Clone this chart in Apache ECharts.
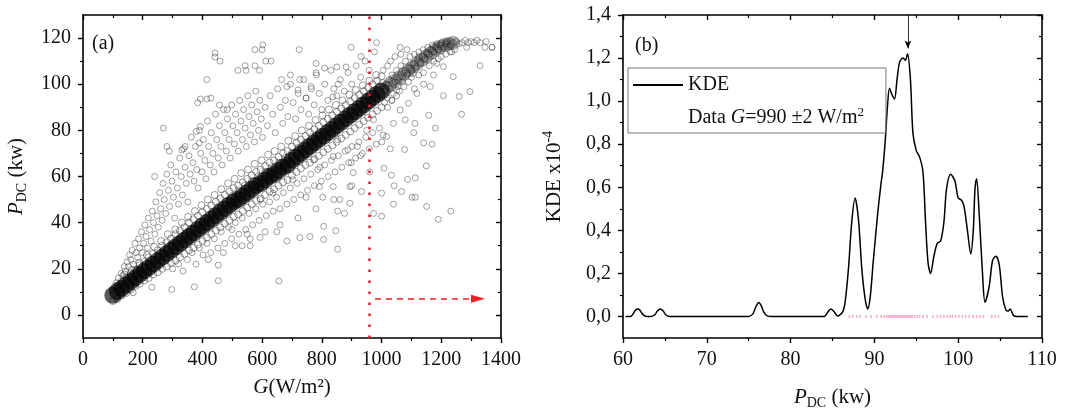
<!DOCTYPE html>
<html>
<head>
<meta charset="utf-8">
<script src="https://cdn.jsdelivr.net/npm/echarts@6.0.0/dist/echarts.min.js"></script>
<style>
html, body { margin: 0; padding: 0; background: #fff; }
#chart { width: 1078px; height: 417px; }
</style>
</head>
<body>
<div id="chart"></div>
<script>
// ---- panel (a): P_DC against irradiance G ----
const bandG = [ 100, 115, 130, 145, 160, 175, 190, 205, 220, 235, 250, 265, 280, 295, 310, 325, 340, 355, 370, 385, 400, 415, 430, 445, 460, 475, 490, 505, 520, 535, 550, 565, 580, 595, 610, 625, 640, 655, 670, 685, 700, 715, 730, 745, 760, 775, 790, 805, 820, 835, 850, 865, 880, 895, 910, 925, 940, 955, 970, 985, 1000 ];
// dense core of the cloud
const bandMid = [ 8.5, 10, 11.5, 13, 14.5, 16, 17.5, 19, 20.5, 22, 23.5, 25, 26.5, 28, 29.5, 31, 32.5, 34, 35.5, 37, 38.5, 40, 41.5, 43, 44.5, 46, 47.5, 49, 50, 51.5, 53, 54.5, 56, 57, 58.5, 60, 61, 62.5, 64, 65, 67, 68.5, 70, 71.5, 73, 74.5, 76, 77.5, 79, 80.5, 82, 83.5, 85, 86.5, 88, 89.5, 91, 92.5, 94, 95.5, 97 ];
// lower / upper edge of the dark band
const bandLo = [ 6, 7, 8.5, 9.5, 11, 12.5, 13.5, 15, 16, 17.5, 18.5, 20, 21, 22.5, 23.5, 25, 26.5, 28, 29, 30.5, 32, 33.5, 35, 36.5, 38, 39.5, 41, 42.5, 43.5, 45, 46.5, 48, 49.5, 50.5, 52, 53.5, 54.5, 56, 57.5, 58.5, 60.5, 62, 63.5, 65, 66, 67.5, 69, 70.5, 72, 73.5, 75, 76.5, 78, 79.5, 81, 82.5, 84, 85.5, 87, 88.5, 90 ];
const bandHi = [ 11, 12.5, 14.5, 16, 18, 19.5, 21.5, 23, 25, 26.5, 28, 30, 31.5, 33, 35, 36.5, 38, 40, 41.5, 43, 44.5, 46, 47.5, 49, 50.5, 52, 53.5, 55, 56, 57.5, 59, 60.5, 62, 63, 64.5, 66, 67, 68.5, 70, 71, 73, 74.5, 76, 77.5, 79, 80.5, 82, 83.5, 85, 86.5, 88, 89.5, 91, 92.5, 94, 95.5, 97, 98.5, 100, 101.5, 103.5 ];

// band continues, lighter, towards saturation
const tailG = [ 1015, 1030, 1045, 1060, 1075, 1090, 1105, 1120, 1135, 1150, 1165, 1180, 1195, 1210, 1225, 1240 ];
const tailMid = [ 98.5, 100, 101.5, 103, 104.5, 106, 107.5, 109, 110.5, 112, 113.5, 115, 116, 117, 117.5, 118 ];

const tailPoints = [ [ 1005, 106 ], [ 1010, 97 ], [ 1010, 92 ], [ 1015, 100 ], [ 1020, 94 ], [ 1020, 108 ], [ 1020, 90 ], [ 1025, 102 ], [ 1030, 98 ], [ 1030, 110 ], [ 1035, 104 ], [ 1035, 93 ], [ 1040, 96 ], [ 1045, 101 ], [ 1045, 112 ], [ 1050, 106 ], [ 1050, 95 ], [ 1055, 99 ], [ 1060, 103 ], [ 1060, 97 ], [ 1065, 108 ], [ 1065, 113 ], [ 1070, 101 ], [ 1075, 105 ], [ 1075, 99 ], [ 1080, 110 ], [ 1085, 104 ], [ 1085, 115 ], [ 1090, 107 ], [ 1090, 101 ], [ 1095, 112 ], [ 1100, 106 ], [ 1100, 103 ], [ 1105, 109 ], [ 1110, 113 ], [ 1110, 98 ], [ 1115, 107 ], [ 1120, 111 ], [ 1125, 114 ], [ 1125, 104 ], [ 1130, 109 ], [ 1135, 112 ], [ 1140, 115 ], [ 1140, 105 ], [ 1145, 111 ], [ 1150, 114 ], [ 1155, 116 ], [ 1160, 113 ], [ 1160, 108 ], [ 1165, 115 ], [ 1170, 117 ], [ 1175, 114 ], [ 1175, 110 ], [ 1180, 116 ], [ 1185, 117.5 ], [ 1190, 115 ], [ 1190, 111 ], [ 1195, 117 ], [ 1200, 118 ], [ 1200, 112 ], [ 1210, 116 ], [ 1215, 117.5 ], [ 1215, 113 ], [ 1220, 118.5 ], [ 1230, 117 ], [ 1230, 114 ], [ 1240, 118 ], [ 1245, 115 ], [ 1250, 118.5 ], [ 1260, 117.5 ], [ 1270, 118 ], [ 1280, 119 ], [ 1290, 118 ], [ 1300, 118.5 ], [ 1310, 118 ], [ 1320, 119 ], [ 1330, 118 ], [ 1350, 118.5 ], [ 1370, 116 ] ];

const nearBand = [ [ 108, 12.5 ], [ 126, 11 ], [ 139, 17.5 ], [ 151, 14 ], [ 163, 19.5 ], [ 171, 15.5 ], [ 188, 22.5 ], [ 197, 18 ], [ 214, 26 ], [ 226, 21 ], [ 239, 29.5 ], [ 247, 24 ], [ 262, 32 ], [ 271, 26.5 ], [ 284, 35 ], [ 296, 30 ], [ 309, 37 ], [ 318, 32.5 ], [ 331, 40 ], [ 344, 35 ], [ 352, 42.5 ], [ 366, 37 ], [ 375, 45 ], [ 388, 40 ], [ 397, 47.5 ], [ 409, 42 ], [ 418, 50 ], [ 432, 44 ], [ 441, 52 ], [ 455, 47 ], [ 463, 54.5 ], [ 477, 49 ], [ 486, 57 ], [ 499, 51.5 ], [ 508, 59 ], [ 521, 54 ], [ 530, 61.5 ], [ 543, 56 ], [ 553, 63 ], [ 566, 58 ], [ 575, 65.5 ], [ 587, 60 ], [ 598, 67 ], [ 611, 62 ], [ 620, 69.5 ], [ 633, 64 ], [ 642, 71 ], [ 656, 66 ], [ 664, 73 ], [ 677, 68 ], [ 688, 75.5 ], [ 699, 70 ], [ 711, 77.5 ], [ 722, 72.5 ], [ 733, 80 ], [ 744, 74.5 ], [ 757, 82 ], [ 767, 77 ], [ 779, 84.5 ], [ 790, 79 ], [ 802, 86.5 ], [ 813, 81 ], [ 824, 89 ], [ 835, 83.5 ], [ 847, 91 ], [ 858, 85.5 ], [ 869, 93 ], [ 880, 88 ], [ 892, 95.5 ], [ 903, 90 ], [ 914, 97.5 ], [ 925, 92.5 ], [ 937, 99.5 ], [ 948, 94.5 ], [ 959, 101.5 ], [ 970, 97 ], [ 982, 104 ], [ 993, 99 ], [ 1003, 100.5 ] ];

const upperCloud = [ [ 112, 14 ], [ 118, 16 ], [ 122, 13.5 ], [ 128, 18 ], [ 133, 17 ], [ 138, 21 ], [ 142, 19 ], [ 148, 23 ], [ 152, 21 ], [ 156, 26 ], [ 160, 24 ], [ 165, 28 ], [ 170, 22 ], [ 174, 31 ], [ 178, 27 ], [ 183, 25 ], [ 186, 33 ], [ 190, 29 ], [ 196, 36 ], [ 199, 27 ], [ 203, 31 ], [ 207, 39 ], [ 211, 34 ], [ 216, 29 ], [ 219, 42 ], [ 223, 37 ], [ 228, 32 ], [ 232, 45 ], [ 236, 40 ], [ 241, 35 ], [ 244, 49 ], [ 248, 43 ], [ 252, 38 ], [ 257, 53 ], [ 260, 46 ], [ 265, 41 ], [ 268, 57 ], [ 272, 50 ], [ 277, 44 ], [ 281, 61 ], [ 286, 54 ], [ 290, 47 ], [ 294, 65 ], [ 298, 58 ], [ 303, 51 ], [ 307, 42 ], [ 311, 62 ], [ 316, 55 ], [ 320, 48 ], [ 324, 68 ], [ 329, 60 ], [ 333, 52 ], [ 337, 72 ], [ 342, 64 ], [ 346, 57 ], [ 351, 49 ], [ 355, 69 ], [ 359, 61 ], [ 363, 77 ], [ 368, 66 ], [ 372, 58 ], [ 377, 73 ], [ 381, 63 ], [ 386, 55 ], [ 390, 80 ], [ 394, 70 ], [ 399, 62 ], [ 403, 76 ], [ 408, 67 ], [ 412, 59 ], [ 417, 84 ], [ 421, 73 ], [ 426, 65 ], [ 430, 79 ], [ 435, 70 ], [ 439, 62 ], [ 444, 87 ], [ 448, 76 ], [ 453, 68 ], [ 457, 82 ], [ 462, 73 ], [ 466, 65 ], [ 471, 89 ], [ 475, 79 ], [ 480, 71 ], [ 484, 85 ], [ 489, 76 ], [ 493, 68 ], [ 498, 91 ], [ 502, 82 ], [ 507, 74 ], [ 511, 87 ], [ 516, 79 ], [ 520, 71 ], [ 525, 93 ], [ 529, 84 ], [ 534, 76 ], [ 538, 89 ], [ 543, 81 ], [ 547, 73 ], [ 552, 95 ], [ 556, 86 ], [ 561, 78 ], [ 565, 91 ], [ 570, 83 ], [ 574, 75 ], [ 579, 97 ], [ 583, 88 ], [ 588, 80 ], [ 592, 93 ], [ 597, 85 ], [ 601, 77 ], [ 610, 90 ], [ 618, 82 ], [ 627, 95 ], [ 635, 87 ], [ 644, 79 ], [ 652, 98 ], [ 661, 90 ], [ 669, 83 ], [ 678, 93 ], [ 686, 86 ], [ 695, 100 ], [ 704, 92 ], [ 712, 85 ], [ 721, 96 ], [ 730, 89 ], [ 739, 102 ], [ 747, 94 ], [ 756, 87 ], [ 765, 98 ], [ 774, 91 ], [ 782, 104 ], [ 791, 96 ], [ 800, 89 ], [ 810, 100 ], [ 820, 93 ], [ 830, 106 ], [ 840, 98 ], [ 850, 95 ], [ 862, 102 ], [ 875, 97 ], [ 888, 105 ], [ 900, 100 ], [ 915, 108 ], [ 930, 103 ], [ 945, 110 ], [ 958, 106 ] ];

const lowerCloud = [ [ 300, 20 ], [ 320, 22 ], [ 335, 19 ], [ 350, 24 ], [ 365, 27 ], [ 378, 22 ], [ 390, 29 ], [ 402, 26 ], [ 415, 31 ], [ 420, 24 ], [ 428, 27 ], [ 440, 33 ], [ 452, 29 ], [ 463, 36 ], [ 470, 27 ], [ 475, 31 ], [ 487, 38 ], [ 498, 33 ], [ 510, 40 ], [ 510, 30 ], [ 522, 35 ], [ 533, 42 ], [ 545, 37 ], [ 556, 44 ], [ 560, 33 ], [ 568, 39 ], [ 579, 46 ], [ 590, 41 ], [ 602, 48 ], [ 610, 36 ], [ 614, 43 ], [ 625, 49 ], [ 637, 45 ], [ 648, 51 ], [ 660, 46 ], [ 660, 39 ], [ 671, 53 ], [ 683, 48 ], [ 694, 55 ], [ 706, 50 ], [ 717, 57 ], [ 720, 42 ], [ 729, 52 ], [ 740, 59 ], [ 752, 54 ], [ 763, 61 ], [ 775, 56 ], [ 780, 46 ], [ 786, 63 ], [ 798, 58 ], [ 809, 65 ], [ 821, 60 ], [ 832, 67 ], [ 840, 50 ], [ 844, 62 ], [ 855, 69 ], [ 867, 64 ], [ 878, 71 ], [ 890, 66 ], [ 900, 56 ], [ 901, 73 ], [ 913, 68 ], [ 924, 75 ], [ 936, 70 ], [ 947, 77 ], [ 959, 72 ], [ 960, 62 ], [ 970, 79 ], [ 982, 74 ], [ 993, 81 ], [ 1005, 78 ] ];

const outliers = [ [ 442, 113.5 ], [ 442, 111.8 ], [ 459, 110 ], [ 576, 115 ], [ 602, 117 ], [ 600, 115 ], [ 724, 115 ], [ 612, 110 ], [ 630, 110 ], [ 543, 108 ], [ 546, 106 ], [ 576, 108 ], [ 591, 106 ], [ 519, 106 ], [ 415, 102 ], [ 415, 93.6 ], [ 428, 94 ], [ 457, 91 ], [ 483, 89 ], [ 384, 92 ], [ 393, 93.6 ], [ 379, 79.5 ], [ 393, 81.7 ], [ 269, 81 ], [ 281, 73 ], [ 289, 71 ], [ 331, 71.5 ], [ 342, 73 ], [ 389, 74.5 ], [ 240, 60 ], [ 983, 118 ], [ 976, 114 ], [ 931, 112 ], [ 898, 116 ], [ 881, 107.5 ], [ 850, 107.5 ], [ 809, 107 ], [ 781, 105 ], [ 781, 109 ], [ 855, 100 ], [ 837, 94.5 ], [ 747, 94 ], [ 764, 99 ], [ 720, 97.5 ], [ 726, 102 ], [ 665, 102 ], [ 695, 104 ], [ 683, 99 ], [ 1062, 116 ], [ 1346, 116 ], [ 1370, 116 ], [ 1296, 96.8 ], [ 1330, 108 ], [ 1260, 94.7 ], [ 1268, 87 ], [ 1207, 95 ], [ 1180, 81 ], [ 1158, 86.5 ], [ 1108, 79 ], [ 1141, 74.6 ], [ 1077, 71.7 ], [ 1087, 58.7 ], [ 1113, 59.4 ], [ 1169, 74 ], [ 1150, 64.6 ], [ 1113, 51 ], [ 1151, 47 ], [ 1190, 41.4 ], [ 1232, 45 ], [ 1040, 48 ], [ 1000, 42.8 ], [ 973, 44 ], [ 876, 44 ], [ 853, 45 ], [ 847, 36.5 ], [ 853, 28.5 ], [ 806, 32.7 ], [ 760, 34 ], [ 806, 38.4 ], [ 726, 33.5 ], [ 683, 32 ], [ 656, 14.7 ], [ 649, 36 ], [ 593, 33.6 ], [ 560, 30 ], [ 533, 30 ], [ 550, 35 ], [ 499, 37 ], [ 453, 21.6 ], [ 453, 14.8 ], [ 297, 11 ], [ 373, 12.2 ], [ 231, 12 ], [ 168, 9.6 ], [ 179, 19.5 ], [ 794, 64 ], [ 898, 66 ], [ 930, 69 ], [ 919, 73 ], [ 1001, 75 ], [ 1029, 72 ], [ 1008, 63.6 ], [ 1033, 60.6 ], [ 1042, 56 ], [ 1067, 53.5 ], [ 1102, 51 ], [ 933, 53.5 ], [ 894, 55.6 ], [ 838, 55.6 ], [ 792, 55.6 ], [ 747, 51 ], [ 702, 58.6 ], [ 675, 64.4 ], [ 636, 52.8 ], [ 593, 50 ], [ 803, 51 ], [ 860, 50 ], [ 894, 48.4 ], [ 1000, 52.8 ], [ 905, 61.7 ], [ 838, 68.7 ], [ 772, 67.3 ], [ 887, 71.6 ], [ 853, 76 ], [ 950, 80 ], [ 973, 84.6 ], [ 1017, 77.3 ], [ 1040, 83 ], [ 1062, 88.8 ], [ 1090, 91.7 ], [ 1118, 96 ], [ 1141, 100 ], [ 1079, 84.6 ], [ 1112, 83 ], [ 1034, 93 ], [ 1106, 104.6 ], [ 1174, 104 ], [ 1207, 107.6 ], [ 1240, 103.3 ], [ 1163, 99 ], [ 1051, 97.5 ], [ 1124, 111.9 ], [ 1152, 113.3 ], [ 1185, 109 ], [ 1235, 114 ], [ 1285, 116 ] ];

const gCut = 960;            // dotted red marker
const arrowFrom = [ 978, 7 ];
const arrowTo = [ 1323, 7 ];

// ---- panel (b): KDE of P_DC for G = 990 +-2 W/m2 ----
const kdeP = [ 60.3, 60.9, 61.2, 61.5, 61.75, 62.0, 62.3, 62.7, 63.3, 63.8, 64.1, 64.45, 64.8, 65.1, 65.6, 75.0, 75.5, 75.8, 76.2, 76.5, 76.8, 77.2, 77.8, 84.0, 84.4, 84.8, 85.2, 85.6, 86.2, 86.5, 86.9, 87.3, 87.7, 88.1, 88.5, 88.9, 89.2, 89.5, 89.85, 90.4, 90.8, 91.0, 91.3, 91.55, 91.8, 92.1, 92.4, 92.7, 93.0, 93.4, 93.7, 93.95, 94.3, 94.6, 95.0, 95.4, 95.8, 96.1, 96.4, 96.7, 97.1, 97.5, 97.9, 98.3, 98.6, 99.1, 99.6, 100.0, 100.4, 100.7, 101.1, 101.5, 101.8, 102.0, 102.2, 102.5, 102.9, 103.2, 103.7, 104.1, 104.5, 104.9, 105.3, 105.7, 105.97, 106.2, 106.6, 107.0, 108.3 ];
const kdeY = [ 0, 0, 0.012, 0.03, 0.035, 0.03, 0.012, 0.001, 0, 0.008, 0.025, 0.035, 0.025, 0.008, 0, 0, 0.012, 0.04, 0.065, 0.05, 0.02, 0.003, 0, 0, 0.018, 0.035, 0.022, 0.002, 0.02, 0.065, 0.22, 0.44, 0.55, 0.45, 0.22, 0.08, 0.035, 0.09, 0.25, 0.48, 0.62, 0.68, 0.82, 0.97, 1.06, 1.03, 1.01, 1.1, 1.18, 1.2, 1.19, 1.22, 1.1, 0.85, 0.77, 0.74, 0.67, 0.44, 0.25, 0.2, 0.28, 0.34, 0.35, 0.44, 0.59, 0.66, 0.63, 0.55, 0.54, 0.51, 0.4, 0.29, 0.4, 0.59, 0.64, 0.48, 0.2, 0.066, 0.14, 0.26, 0.28, 0.24, 0.09, 0.03, 0.025, 0.035, 0.005, 0, 0 ];
// rug of the raw samples
const rugP = [ 87.0, 87.4, 87.9, 88.3, 89.0, 89.6, 90.3, 90.8, 91.2, 91.5, 91.7, 91.9, 92.1, 92.3, 92.5, 92.7, 92.9, 93.1, 93.3, 93.5, 93.7, 93.9, 94.1, 94.3, 94.5, 94.8, 95.1, 95.4, 95.8, 96.3, 97.0, 97.5, 97.9, 98.3, 98.7, 99.0, 99.3, 99.7, 100.1, 100.5, 100.9, 101.3, 101.8, 102.2, 102.6, 103.0, 104.0, 104.4, 104.8 ];
const peakArrow = [ [ 94, 1.4 ], [ 94, 1.245 ] ];

const FONT = 'Liberation Serif';
const INK = '#111';

const zip = ( xs, ys ) => xs.map( ( x, i ) => [ x, ys[ i ] ] );

const frameAxis = ( extra ) => Object.assign( {
	type: 'value',
	axisLine: { show: true, onZero: false, lineStyle: { color: '#000', width: 1.6 } },
	splitLine: { show: false },
	axisTick: { show: true, length: 5, lineStyle: { color: '#000', width: 1.4 } },
	minorTick: { show: false },
	axisLabel: { show: false }
}, extra );

const tickLabel = ( extra ) => Object.assign( {
	show: true,
	fontFamily: FONT,
	fontSize: 20,
	color: INK,
	formatter: ( v ) => String( v )
}, extra );

const minorOverlay = ( extra, values, inside ) => frameAxis( Object.assign( {
	axisLine: { show: false, onZero: false },
	axisTick: { show: true, inside, length: 3, customValues: values, lineStyle: { color: '#000', width: 1.2 } }
}, extra ) );

const nameRich = {
	n: { fontFamily: FONT, fontSize: 21, color: INK, lineHeight: 26 },
	i: { fontFamily: FONT, fontSize: 21, color: INK, fontStyle: 'italic', lineHeight: 26 },
	s: { fontFamily: FONT, fontSize: 14, color: INK, lineHeight: 14, verticalAlign: 'bottom' },
	sup: { fontFamily: FONT, fontSize: 14, color: INK, lineHeight: 14, verticalAlign: 'top' }
};

const aMajors = [ 0, 20, 40, 60, 80, 100, 120 ];
const aMinors = [ 10, 30, 50, 70, 90, 110 ];
const bMajors = [ 0, 0.2, 0.4, 0.6, 0.8, 1.0, 1.2, 1.4 ];
const bMinors = [ 0.1, 0.3, 0.5, 0.7, 0.9, 1.1, 1.3 ];
const commaFmt = ( v ) => v.toFixed( 1 ).replace( '.', ',' );

const hollow = {
	color: 'rgba(0,0,0,0)',
	borderColor: 'rgba(60,60,60,0.75)',
	borderWidth: 0.8
};

const chart = echarts.init( document.getElementById( 'chart' ), null, { renderer: 'canvas' } );

chart.setOption( {
	animation: false,
	backgroundColor: '#fff',
	grid: [
		{ left: 83, top: 15, width: 418, height: 323 },
		{ left: 623, top: 15, width: 419, height: 323 }
	],
	xAxis: [
		frameAxis( {
			gridIndex: 0, position: 'bottom', min: 0, max: 1400, interval: 200,
			minorTick: { show: true, splitNumber: 2, length: 3, lineStyle: { color: '#000', width: 1.2 } },
			axisLabel: tickLabel( { margin: 12 } ),
			name: '{i|G}{n|(W/m²)}', nameLocation: 'middle', nameGap: 36,
			nameTextStyle: { rich: nameRich }
		} ),
		frameAxis( {
			gridIndex: 0, position: 'top', min: 0, max: 1400, interval: 200,
			axisTick: { show: true, inside: true, length: 5, lineStyle: { color: '#000', width: 1.4 } },
			minorTick: { show: true, splitNumber: 2, length: 3, lineStyle: { color: '#000', width: 1.2 } }
		} ),
		frameAxis( {
			gridIndex: 1, position: 'bottom', min: 60, max: 110, interval: 10,
			minorTick: { show: true, splitNumber: 2, length: 3, lineStyle: { color: '#000', width: 1.2 } },
			axisLabel: tickLabel( { margin: 12 } ),
			name: '{i|P}{s|DC}{n| (kw)}', nameLocation: 'middle', nameGap: 46,
			nameTextStyle: { rich: nameRich }
		} ),
		frameAxis( {
			gridIndex: 1, position: 'top', min: 60, max: 110, interval: 10,
			axisTick: { show: true, inside: true, length: 5, lineStyle: { color: '#000', width: 1.4 } },
			minorTick: { show: true, splitNumber: 2, length: 3, lineStyle: { color: '#000', width: 1.2 } }
		} )
	],
	yAxis: [
		frameAxis( {
			gridIndex: 0, position: 'left', min: -10, max: 130, interval: 10,
			axisTick: { show: true, length: 5, customValues: aMajors, lineStyle: { color: '#000', width: 1.4 } },
			axisLabel: tickLabel( { margin: 12, customValues: aMajors } ),
			name: '{i|P}{s|DC}{n| (kw)}', nameLocation: 'middle', nameGap: 54,
			nameTextStyle: { rich: nameRich }
		} ),
		minorOverlay( { gridIndex: 0, position: 'left', min: -10, max: 130, interval: 10 }, aMinors, false ),
		frameAxis( {
			gridIndex: 0, position: 'right', min: -10, max: 130, interval: 10,
			axisTick: { show: true, inside: true, length: 5, customValues: aMajors, lineStyle: { color: '#000', width: 1.4 } }
		} ),
		minorOverlay( { gridIndex: 0, position: 'right', min: -10, max: 130, interval: 10 }, aMinors, true ),
		frameAxis( {
			gridIndex: 1, position: 'left', min: -0.1, max: 1.4, interval: 0.1,
			axisTick: { show: true, length: 5, customValues: bMajors, lineStyle: { color: '#000', width: 1.4 } },
			axisLabel: tickLabel( { margin: 12, customValues: bMajors, formatter: commaFmt } ),
			name: '{n|KDE x10}{sup|-4}', nameLocation: 'middle', nameGap: 56,
			nameTextStyle: { rich: nameRich }
		} ),
		minorOverlay( { gridIndex: 1, position: 'left', min: -0.1, max: 1.4, interval: 0.1 }, bMinors, false ),
		frameAxis( {
			gridIndex: 1, position: 'right', min: -0.1, max: 1.4, interval: 0.1,
			axisTick: { show: true, inside: true, length: 5, customValues: bMajors, lineStyle: { color: '#000', width: 1.4 } }
		} ),
		minorOverlay( { gridIndex: 1, position: 'right', min: -0.1, max: 1.4, interval: 0.1 }, bMinors, true )
	],
	legend: {
		data: [ { name: 'KDE', itemStyle: { opacity: 0 } }, { name: 'Data', itemStyle: { opacity: 0 } } ],
		orient: 'vertical',
		left: 628,
		top: 68,
		padding: [ 5, 22, 3, 4 ],
		itemGap: 9,
		itemWidth: 50,
		itemHeight: 14,
		borderColor: '#777',
		borderWidth: 1,
		selectedMode: false,
		textStyle: {
			fontFamily: FONT, fontSize: 20, color: INK, lineHeight: 24,
			rich: {
				i: { fontFamily: FONT, fontSize: 20, color: INK, fontStyle: 'italic' },
				sup: { fontFamily: FONT, fontSize: 13, color: INK, verticalAlign: 'top', lineHeight: 13 }
			}
		},
		formatter: ( name ) => name === 'Data' ? 'Data {i|G}=990 ±2 W/m{sup|2}' : name
	},
	graphic: [
		{ type: 'text', left: 92, top: 34, style: { text: '(a)', font: '20px "Liberation Serif"', fill: INK } },
		{ type: 'text', left: 635, top: 36, style: { text: '(b)', font: '20px "Liberation Serif"', fill: INK } }
	],
	series: [
		{
			type: 'scatter', xAxisIndex: 0, yAxisIndex: 0, silent: true,
			symbol: 'circle', symbolSize: 6, itemStyle: hollow,
			data: upperCloud.concat( lowerCloud, outliers, tailPoints )
		},
		{
			type: 'scatter', xAxisIndex: 0, yAxisIndex: 0, silent: true,
			symbol: 'circle', symbolSize: 7,
			itemStyle: { color: 'rgba(0,0,0,0)', borderColor: 'rgba(40,40,40,0.65)', borderWidth: 0.9 },
			data: zip( bandG, bandLo ).concat( zip( bandG, bandHi ), nearBand )
		},
		{
			type: 'scatter', xAxisIndex: 0, yAxisIndex: 0, silent: true,
			symbol: 'circle', symbolSize: 14,
			itemStyle: { color: 'rgba(20,20,20,0.4)' },
			data: zip( tailG, tailMid )
		},
		{
			type: 'scatter', xAxisIndex: 0, yAxisIndex: 0, silent: true,
			symbol: 'circle', symbolSize: 17,
			itemStyle: { color: 'rgba(0,0,0,0.8)' },
			data: zip( bandG, bandMid )
		},
		{
			// annotations of panel (a), kept on top of the cloud
			type: 'scatter', xAxisIndex: 0, yAxisIndex: 0, silent: true, z: 10,
			data: [],
			markLine: {
				silent: true,
				symbol: [ 'none', 'triangle' ],
				symbolSize: [ 8, 14 ],
				label: { show: false },
				lineStyle: { color: '#ee1c25', type: [ 6, 5 ], width: 1.5 },
				itemStyle: { color: '#ee1c25' },
				data: [
					[ { coord: arrowFrom }, { coord: arrowTo } ],
					[
						{ xAxis: gCut, yAxis: -10, symbol: 'none', lineStyle: { color: '#e41e26', type: [ 2.5, 8.5 ], width: 2.5 } },
						{ xAxis: gCut, yAxis: 130, symbol: 'none' }
					]
				]
			}
		},
		{
			name: 'KDE', type: 'line', xAxisIndex: 2, yAxisIndex: 4, silent: true,
			symbol: 'none', smooth: 0.3,
			lineStyle: { color: '#000', width: 1.5 },
			itemStyle: { color: '#000' },
			data: zip( kdeP, kdeY ),
			markLine: {
				silent: true,
				symbol: [ 'none', 'arrow' ],
				symbolSize: [ 5, 8 ],
				label: { show: false },
				lineStyle: { color: '#000', type: 'solid', width: 0.8 },
				data: [ [ { coord: peakArrow[ 0 ] }, { coord: peakArrow[ 1 ] } ] ]
			}
		},
		{
			name: 'Data', type: 'scatter', xAxisIndex: 2, yAxisIndex: 4, silent: true,
			symbol: 'rect', symbolSize: [ 1.5, 3 ],
			itemStyle: { color: 'rgba(232,80,150,0.6)' },
			data: rugP.map( ( p ) => [ p, 0 ] )
		}
	]
} );
</script>
</body>
</html>
